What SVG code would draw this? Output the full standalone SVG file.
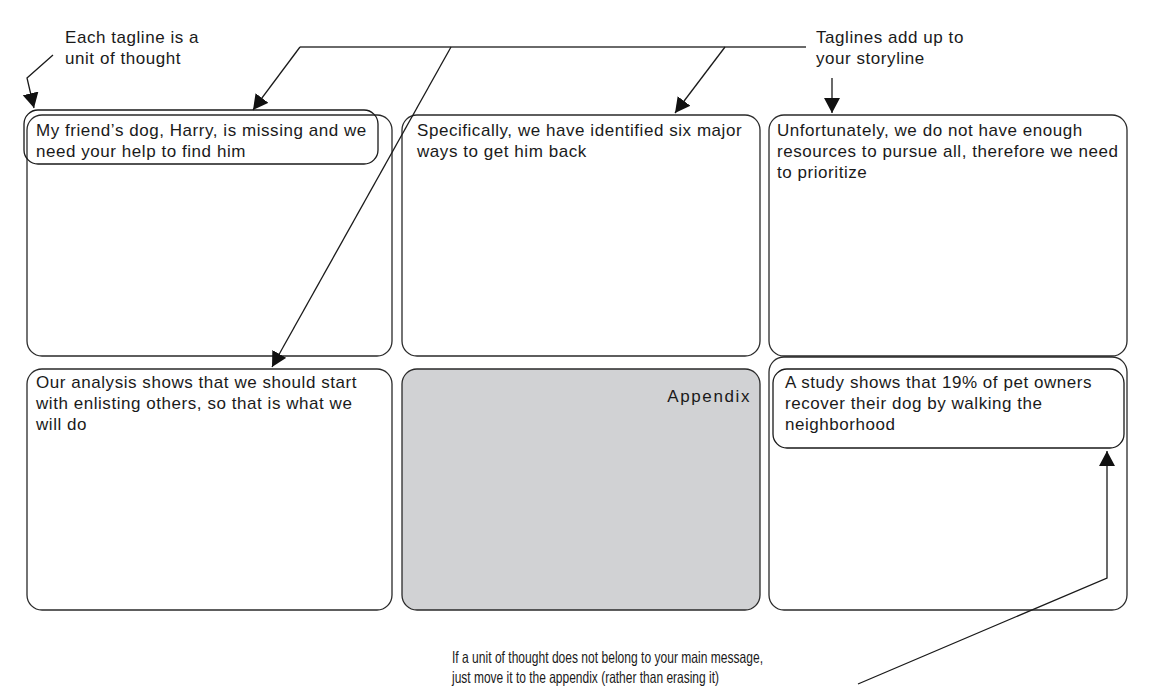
<svg xmlns="http://www.w3.org/2000/svg" width="1152" height="697" viewBox="0 0 1152 697">
<defs>
<style>
.panel{fill:#fff;stroke:#2a2a2a;stroke-width:1.3}
.gray{fill:#d1d2d4;stroke:#2a2a2a;stroke-width:1.3}
.hl{fill:none;stroke:#1a1a1a;stroke-width:1.3}
.t{font-family:"Liberation Sans",Arial,sans-serif;font-size:17px;letter-spacing:0.55px;fill:#1a1a1a}
.note{font-family:"Liberation Sans",Arial,sans-serif;font-size:16.5px;fill:#1a1a1a}
.ln{fill:none;stroke:#1a1a1a;stroke-width:1.3}
.gln{fill:none;stroke:#6a6a6a;stroke-width:2}
</style>
<marker id="ah" markerUnits="userSpaceOnUse" markerWidth="17" markerHeight="17" refX="15" refY="8.5" orient="auto" viewBox="0 0 17 17">
<path d="M0,0.5 L15,8.5 L0,16.5 z" fill="#111"/>
</marker>
</defs>
<rect width="1152" height="697" fill="#fff"/>

<g id="panel-1">
<rect class="panel" x="27" y="115" width="365" height="241" rx="15"/>
<rect class="hl" x="24" y="110" width="354" height="54" rx="14"/>
<text class="t" x="36" y="136">My friend’s dog, Harry, is missing and we</text>
<text class="t" x="36" y="157">need your help to find him</text>
</g>

<g id="panel-2">
<rect class="panel" x="402" y="115" width="358" height="241" rx="15"/>
<text class="t" x="417" y="136">Specifically, we have identified six major</text>
<text class="t" x="417" y="157">ways to get him back</text>
</g>

<g id="panel-3">
<rect class="panel" x="769" y="115" width="358" height="241" rx="15"/>
<text class="t" x="777" y="136">Unfortunately, we do not have enough</text>
<text class="t" x="777" y="157">resources to pursue all, therefore we need</text>
<text class="t" x="777" y="178">to prioritize</text>
</g>

<g id="panel-4">
<rect class="panel" x="27" y="369" width="365" height="241" rx="15"/>
<text class="t" x="36" y="388">Our analysis shows that we should start</text>
<text class="t" x="36" y="409">with enlisting others, so that is what we</text>
<text class="t" x="36" y="430">will do</text>
</g>

<g id="appendix">
<rect class="gray" x="402" y="369" width="358" height="241" rx="15"/>
<text class="t" x="751" y="402" text-anchor="end" style="letter-spacing:1.6px">Appendix</text>
</g>

<g id="panel-6">
<rect class="panel" x="769" y="357" width="358" height="253" rx="15"/>
<rect class="hl" x="773" y="369" width="351" height="79" rx="14"/>
<text class="t" x="785" y="388">A study shows that 19% of pet owners</text>
<text class="t" x="785" y="409">recover their dog by walking the</text>
<text class="t" x="785" y="430">neighborhood</text>
</g>

<g id="annotations">
<text class="t" x="65" y="43">Each tagline is a</text>
<text class="t" x="65" y="64">unit of thought</text>
<text class="t" x="816" y="43">Taglines add up to</text>
<text class="t" x="816" y="64">your storyline</text>
<text class="note" x="452" y="663" textLength="311" lengthAdjust="spacingAndGlyphs">If a unit of thought does not belong to your main message,</text>
<text class="note" x="452" y="683" textLength="267" lengthAdjust="spacingAndGlyphs">just move it to the appendix (rather than erasing it)</text>
</g>

<g id="connectors">
<polyline class="ln" points="53,55 27,78 34,108" marker-end="url(#ah)"/>
<line class="gln" x1="300" y1="47" x2="806" y2="47"/>
<line class="ln" x1="300" y1="47" x2="253" y2="110" marker-end="url(#ah)"/>
<line class="ln" x1="725" y1="47" x2="675" y2="113" marker-end="url(#ah)"/>
<line class="ln" x1="451" y1="47" x2="272" y2="367" marker-end="url(#ah)"/>
<line class="ln" x1="832" y1="78" x2="832" y2="113" marker-end="url(#ah)"/>
<polyline class="ln" points="858,684 1107,578 1107,451" marker-end="url(#ah)"/>
</g>
</svg>
